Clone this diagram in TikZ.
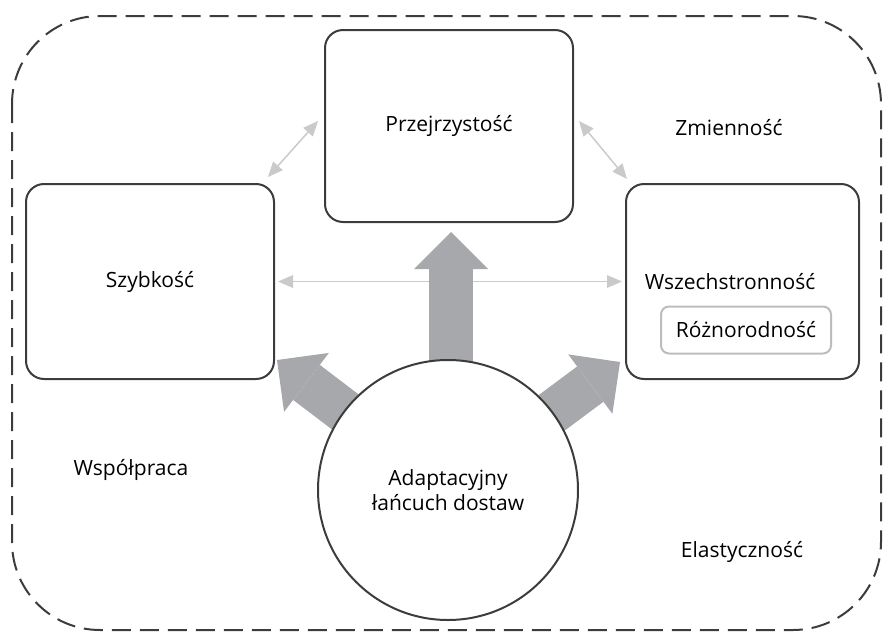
\documentclass[tikz,border=0pt]{standalone}
\usepackage{fontspec}
\setmainfont{Open Sans}
\usetikzlibrary{arrows.meta}
\definecolor{edge}{HTML}{3C3C3C}
\definecolor{bigfill}{HTML}{A7A8AB}
\definecolor{thin}{HTML}{C9CACC}
\definecolor{subedge}{HTML}{BDBDBD}
\begin{document}
\begin{tikzpicture}[x=1pt,y=-1pt,
  txt/.style={font=\fontsize{21}{25}\selectfont,text=black,inner sep=0pt},
  box/.style={txt,draw=edge,line width=2pt,rounded corners=18pt,fill=white},
  subbox/.style={txt,draw=subedge,line width=2pt,rounded corners=8pt,fill=white},
  hubstyle/.style={txt,circle,draw=edge,line width=2pt,fill=white,minimum size=260pt,align=center},
  bigarrow/.style={draw=bigfill,line width=44pt,
    -{Triangle[length=37pt,width=74pt,line width=0pt]}},
  thinarrow/.style={draw=thin,line width=1.5pt,
    {Triangle[length=15pt,width=13pt,line width=0pt]}-{Triangle[length=15pt,width=13pt,line width=0pt]}},
  frame/.style={draw=edge,line width=2pt,dash pattern=on 19pt off 9pt,rounded corners=88pt}]
\useasboundingbox (0,0) rectangle (884,632);

% outer dashed frame
\draw[frame] (12,16) rectangle (881,630);

% the three capability boxes
\node[box,minimum width=248pt,minimum height=195pt] (szyb) at (150,281.5) {Szybkość};
\node[box,minimum width=248pt,minimum height=192pt] (przej) at (449,126) {Przejrzystość};
\node[box,minimum width=233pt,minimum height=195pt] (wsz) at (742.5,281.5) {};
\node[txt] (wszt) at (730,282) {Wszechstronność};
\node[subbox,minimum width=170pt,minimum height=47pt] (rozn) at (746,330) {Różnorodność};

% free labels
\node[txt] (zmien) at (729,128) {Zmienność};
\node[txt] (wspol) at (131,470) {Współpraca};
\node[txt] (elast) at (742,552) {Elastyczność};

% light two-way links between the boxes
\coordinate (l1) at (268,177);
\coordinate (l2) at (318,121);
\coordinate (r1) at (579,121);
\coordinate (r2) at (627,179);
\draw[thinarrow] (l1) -- (l2);
\draw[thinarrow] (r1) -- (r2);
\draw[thinarrow,shorten <=3pt,shorten >=3pt] (szyb.east) -- (wsz.west);

% heavy arrows out of the hub (hub circle is painted over their tails)
\coordinate (hubc) at (448,490);
\coordinate (tipL) at (277,360);
\coordinate (tipU) at (451,232);
\coordinate (tipR) at (620,362);
\draw[bigarrow] (hubc) -- (tipL);
\draw[bigarrow] (tipU |- hubc) -- (tipU);
\draw[bigarrow] (hubc) -- (tipR);

\node[hubstyle] (hub) at (hubc) {Adaptacyjny\\łańcuch dostaw};
\end{tikzpicture}
\end{document}
